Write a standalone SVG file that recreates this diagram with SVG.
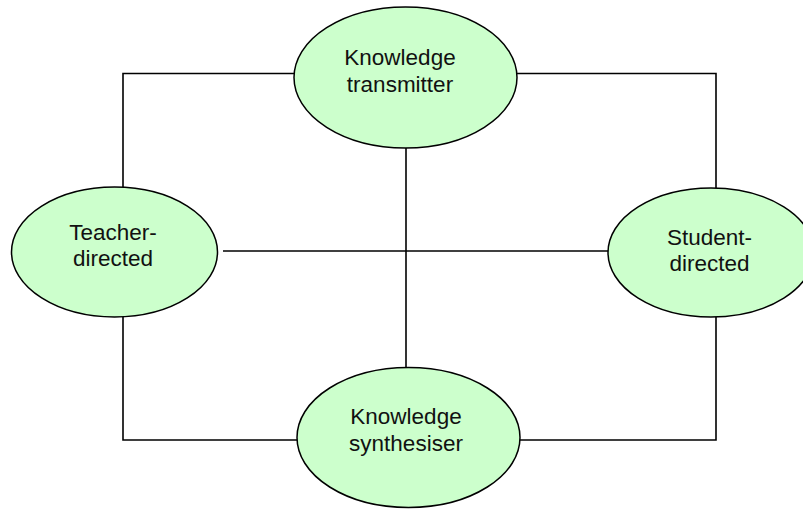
<svg xmlns="http://www.w3.org/2000/svg" width="803" height="509" viewBox="0 0 803 509">
<style>
.n ellipse{fill:#CCFFCC;stroke:#000;stroke-width:1.5}
.n text{font-family:"Liberation Sans",Arial,sans-serif;font-size:22.5px;fill:#111;text-anchor:middle}
#connectors path{fill:none;stroke:#000;stroke-width:1.6}
</style>
<rect width="803" height="509" fill="#fff"/>
<g id="connectors">
<path d="M294,73.5 H123 V187"/>
<path d="M517,73.5 H716 V188"/>
<path d="M123,317 V440 H297"/>
<path d="M716,317 V440 H520"/>
<path d="M223,251 H608"/>
<path d="M406,148 V367"/>
</g>
<g id="knowledge-transmitter" class="n">
<ellipse cx="405.5" cy="77.5" rx="111.5" ry="70.5"/>
<text x="400" y="65">Knowledge</text>
<text x="400" y="92">transmitter</text>
</g>
<g id="teacher-directed" class="n">
<ellipse cx="114.5" cy="252" rx="103" ry="65"/>
<text x="113" y="240">Teacher-</text>
<text x="113" y="266">directed</text>
</g>
<g id="student-directed" class="n">
<ellipse cx="711" cy="252.5" rx="103" ry="64.5"/>
<text x="709.5" y="245">Student-</text>
<text x="709.5" y="271">directed</text>
</g>
<g id="knowledge-synthesiser" class="n">
<ellipse cx="408.5" cy="437.5" rx="111.5" ry="70"/>
<text x="406" y="424">Knowledge</text>
<text x="406" y="450.5">synthesiser</text>
</g>
</svg>
